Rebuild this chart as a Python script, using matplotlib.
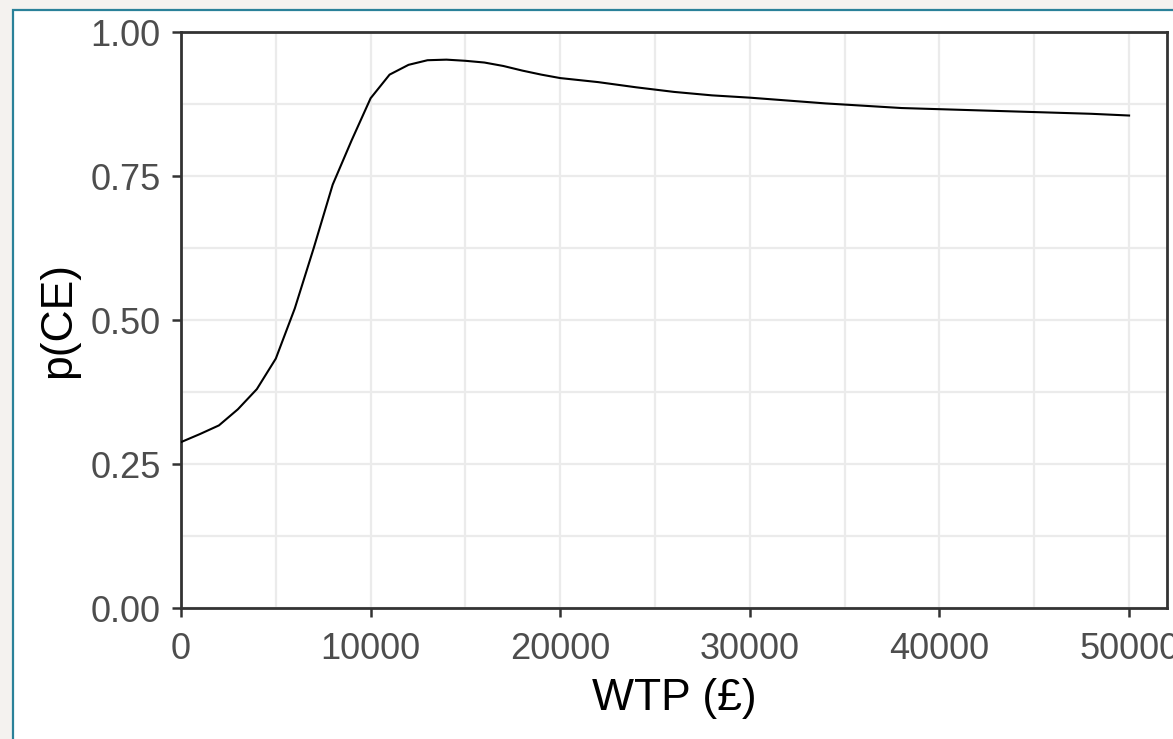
import matplotlib
matplotlib.use("Agg")
import matplotlib.pyplot as plt
from matplotlib.patches import Rectangle

# === DATA ===
wtp = [0, 1000, 2000, 3000, 4000, 5000, 6000, 7000, 8000, 9000, 10000,
       11000, 12000, 13000, 14000, 15000, 16000, 17000, 18000, 19000, 20000,
       22000, 24000, 26000, 28000, 30000, 32000, 34000, 36000, 38000, 40000,
       42000, 44000, 46000, 48000, 50000]
p_ce = [0.288, 0.302, 0.317, 0.345, 0.380, 0.433, 0.520, 0.625, 0.735, 0.812, 0.885,
        0.926, 0.943, 0.951, 0.952, 0.950, 0.947, 0.941, 0.933, 0.926, 0.920,
        0.913, 0.904, 0.896, 0.890, 0.886, 0.881, 0.876, 0.872, 0.868, 0.866,
        0.864, 0.862, 0.860, 0.858, 0.855]

x_ticks = [0, 10000, 20000, 30000, 40000, 50000]
y_ticks = [0.00, 0.25, 0.50, 0.75, 1.00]

plt.rcParams["font.family"] = ["Liberation Sans", "DejaVu Sans"]

W, H = 1173, 739
fig = plt.figure(figsize=(W / 100, H / 100), dpi=100, facecolor="#f4f2ef")

# white card with teal outline behind the plot
card = Rectangle((13 / W, -0.05), 1.1, 1 - 10 / H + 0.05, transform=fig.transFigure,
                 facecolor="white", edgecolor="#2a8199", linewidth=1.6, zorder=-5)
fig.patches.append(card)

ax = fig.add_axes([181 / W, (H - 608) / H, (1167 - 181) / W, (608 - 32) / H])
ax.set_facecolor("white")

ax.plot(wtp, p_ce, color="black", linewidth=1.5, zorder=3)

ax.set_xlim(0, 52000)
ax.set_ylim(0, 1)
ax.set_xticks(x_ticks)
ax.set_xticklabels([str(v) for v in x_ticks])
ax.set_yticks(y_ticks)
ax.set_yticklabels([f"{v:.2f}" for v in y_ticks])
ax.set_xticks(range(5000, 52000, 10000), minor=True)
ax.set_yticks([0.125, 0.375, 0.625, 0.875], minor=True)

ax.grid(which="both", color="#ebebeb", linewidth=1.6, zorder=0)
ax.set_axisbelow(True)
ax.tick_params(which="minor", length=0)
ax.tick_params(which="major", length=6.5, width=1.8, color="#333333",
               labelsize=26, labelcolor="#4d4d4d")
ax.tick_params(axis="x", pad=11)
ax.tick_params(axis="y", pad=8)

for side in ["left", "bottom", "top", "right"]:
    ax.spines[side].set_color("#333333")
    ax.spines[side].set_linewidth(2.0)

ax.set_xlabel("WTP (£)", fontsize=32, color="black", labelpad=8)
ax.set_ylabel("p(CE)", fontsize=32, color="black", labelpad=8)

fig.savefig("out.png", dpi=100, facecolor=fig.get_facecolor())
